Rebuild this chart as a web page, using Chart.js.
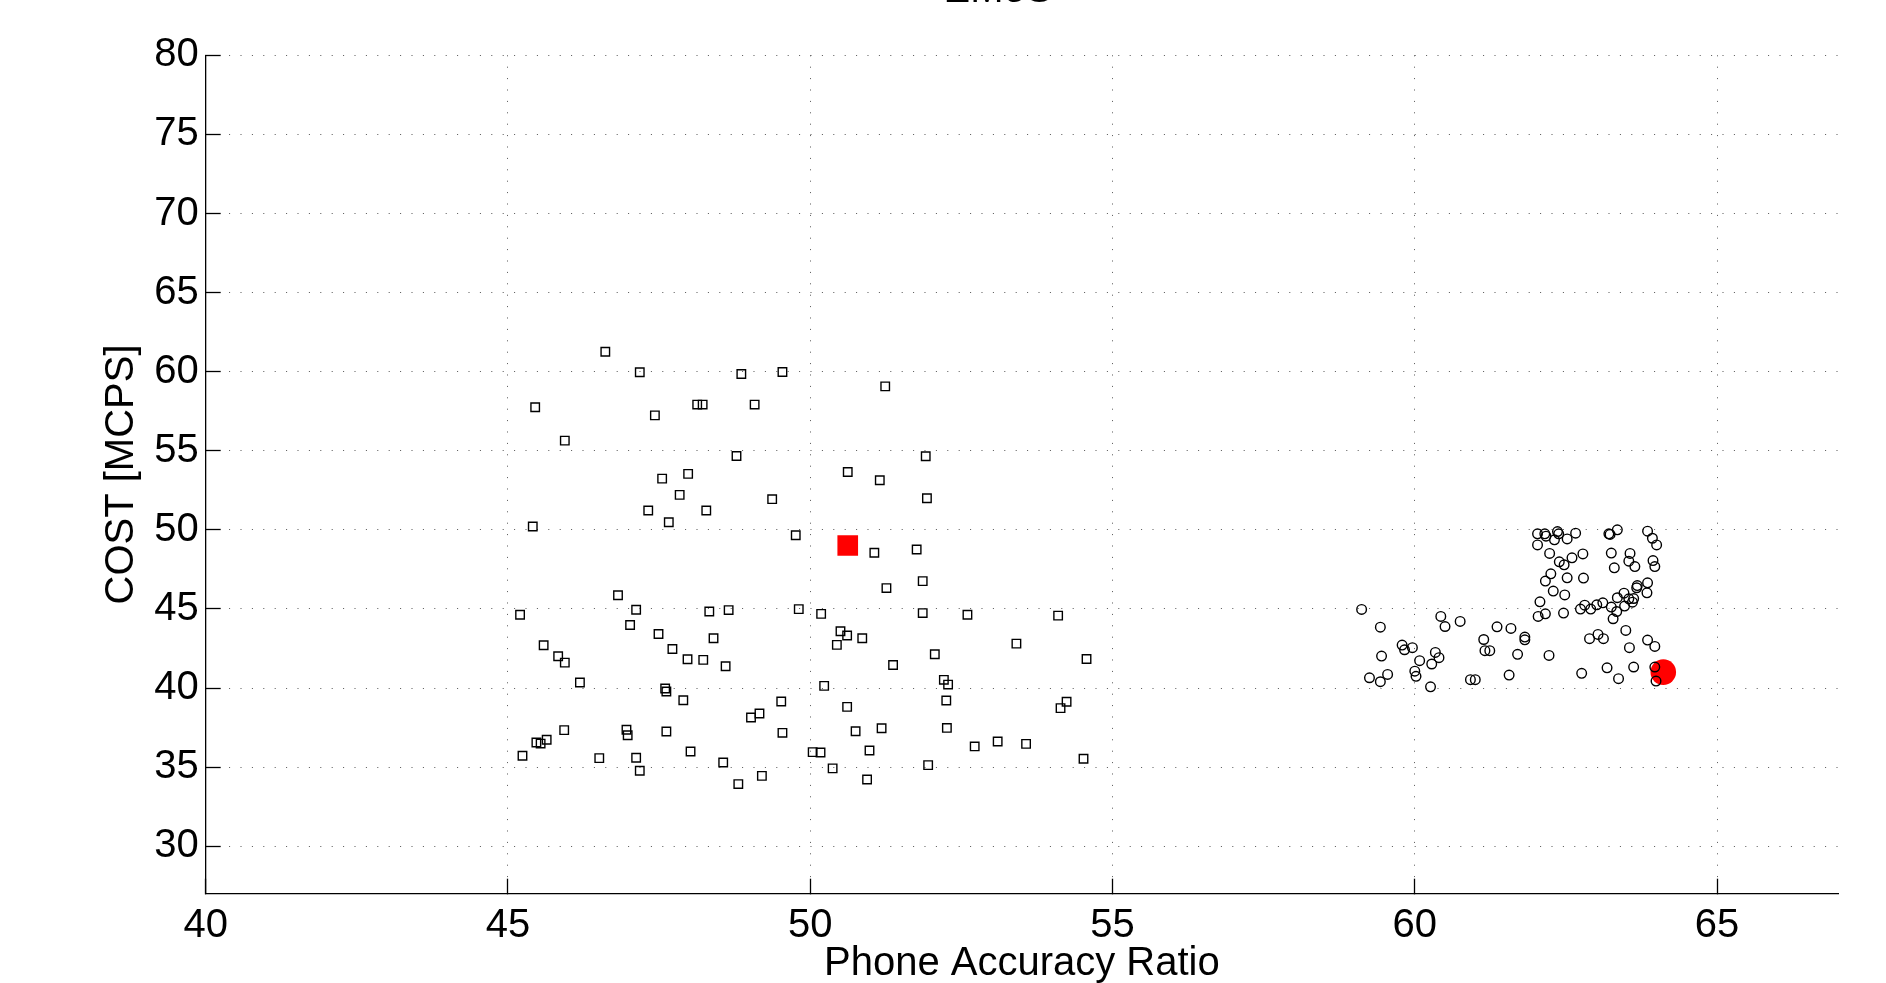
<!DOCTYPE html>
<html>
<head>
<meta charset="utf-8">
<title>EMoS</title>
<script src="https://cdn.jsdelivr.net/npm/chart.js@4/dist/chart.umd.min.js"></script>
<style>
  html, body { margin: 0; padding: 0; background: #fff; }
  #wrap { width: 1886px; height: 983px; position: relative; }
</style>
</head>
<body>
<div id="wrap"><canvas id="chart" width="1886" height="983"></canvas></div>
<script>
// square cluster (left)
const squaresX = [46.61, 47.18, 48.86, 49.54, 45.45, 47.43, 48.13, 48.22, 49.08, 51.24,
  45.94, 48.78, 51.91, 47.55, 47.98, 50.62, 51.15, 47.84, 49.37, 51.93,
  47.32, 48.28, 47.66, 45.41, 49.76, 51.06, 51.76, 51.86, 51.26, 46.82,
  47.12, 48.33, 48.65, 49.81, 50.18, 51.86, 52.60, 45.20, 54.10, 47.02,
  47.49, 48.40, 50.50, 50.61, 50.86, 50.44, 53.41, 45.59, 45.83, 45.94,
  47.72, 47.97, 48.23, 48.60, 52.06, 51.37, 54.57, 46.19, 47.60, 47.62,
  50.23, 52.21, 52.28, 47.90, 49.52, 50.61, 52.25, 54.24, 54.14, 49.16,
  49.02, 45.93, 46.96, 46.98, 47.62, 49.54, 50.75, 51.18, 52.26, 45.64,
  45.47, 45.54, 45.24, 46.51, 47.12, 48.02, 48.56, 50.04, 50.17, 50.98,
  52.72, 53.10, 53.57, 54.52, 51.95, 47.18, 50.37, 49.20, 48.81, 50.94];
const squaresY = [61.26, 59.96, 59.85, 59.98, 57.75, 57.24, 57.92, 57.92, 57.92, 59.07,
  55.64, 54.67, 54.65, 53.24, 53.54, 53.66, 53.14, 52.21, 51.94, 52.00,
  51.22, 51.22, 50.48, 50.21, 49.66, 48.55, 48.76, 46.76, 46.32, 45.87,
  44.95, 44.84, 44.93, 44.99, 44.69, 44.74, 44.63, 44.63, 44.58, 43.99,
  43.42, 43.15, 43.59, 43.32, 43.15, 42.73, 42.81, 42.71, 42.01, 41.61,
  42.47, 41.82, 41.78, 41.38, 42.14, 41.46, 41.84, 40.35, 39.97, 39.78,
  40.14, 40.52, 40.22, 39.23, 39.15, 38.81, 39.21, 39.13, 38.73, 38.39,
  38.14, 37.34, 37.36, 37.02, 37.25, 37.17, 37.27, 37.46, 37.48, 36.73,
  36.56, 36.49, 35.72, 35.57, 35.59, 35.99, 35.29, 35.95, 35.93, 36.05,
  36.31, 36.62, 36.47, 35.53, 35.13, 34.77, 34.92, 34.45, 33.93, 34.22];

// circle cluster (right)
const circlesX = [59.12, 59.43, 60.43, 60.50, 60.75, 61.36, 61.59, 61.14, 59.79, 59.83,
  59.96, 59.45, 60.08, 60.34, 60.40, 60.28, 61.16, 61.24, 61.70, 60.00,
  60.02, 59.25, 59.43, 59.55, 60.26, 60.92, 61.00, 61.56, 61.82, 61.82,
  62.22, 62.76, 63.18, 63.37, 63.62, 63.97, 63.99, 62.89, 63.03, 63.12,
  63.49, 63.55, 63.85, 63.97,
  62.03, 62.03, 62.15, 62.17, 62.31, 62.36, 62.38, 62.52, 62.66, 63.21,
  63.23, 63.35, 63.85, 63.93, 64.00, 62.23, 62.39, 62.47, 62.60, 62.78,
  63.25, 63.56, 63.54, 63.64, 63.30, 63.94, 63.97, 62.25, 62.16, 62.52,
  62.79, 62.29, 62.48, 62.07, 62.04, 62.16, 62.46, 62.74, 62.81, 62.91,
  63.01, 63.11, 63.25, 63.34, 63.28, 63.35, 63.46, 63.47, 63.54, 63.62,
  63.67, 63.68, 63.85, 63.84, 63.60];
const circlesY = [44.97, 43.85, 44.53, 43.89, 44.21, 43.87, 43.77, 43.07, 42.72, 42.42,
  42.55, 42.02, 41.73, 42.25, 41.92, 41.52, 42.36, 42.36, 42.13, 41.07,
  40.74, 40.65, 40.40, 40.86, 40.08, 40.53, 40.53, 40.82, 43.22, 43.05,
  42.06, 40.93, 41.28, 40.59, 41.33, 41.33, 40.44, 43.12, 43.39, 43.12,
  43.64, 42.55, 43.03, 42.63,
  49.75, 49.05, 49.75, 49.60, 49.37, 49.89, 49.75, 49.43, 49.79, 49.75,
  49.71, 50.00, 49.92, 49.47, 49.05, 48.51, 47.98, 47.79, 48.23, 48.48,
  48.53, 48.51, 48.02, 47.68, 47.60, 48.06, 47.68, 47.22, 46.76, 46.97,
  46.95, 46.13, 45.89, 45.45, 44.53, 44.69, 44.74, 44.99, 45.24, 44.99,
  45.26, 45.39, 45.12, 44.84, 44.38, 45.71, 46.00, 45.18, 45.64, 45.66,
  46.34, 46.48, 46.65, 46.02, 45.43];

// highlighted points
const bestSquare = [50.62, 49.01];
const bestCircle = [64.11, 41.01];

const xTicks = [40, 45, 50, 55, 60, 65];
const yTicks = [30, 35, 40, 45, 50, 55, 60, 65, 70, 75, 80];

function toPoints(xs, ys) {
  return xs.map((x, i) => ({x: x, y: ys[i]}));
}

const FONT = '"Liberation Sans", Arial, Helvetica, sans-serif';

// title sits mostly above the canvas, only the bottom edge shows
const cutTitle = {
  id: 'cutTitle',
  afterDraw(chart) {
    const ctx = chart.ctx;
    ctx.save();
    ctx.font = '40px ' + FONT;
    ctx.fillStyle = '#000';
    ctx.textAlign = 'center';
    ctx.textBaseline = 'alphabetic';
    ctx.fillText('EMoS', 998, 1.5);
    ctx.restore();
  }
};

const gridStyle = {
  color: '#555',
  lineWidth: 1,
  tickLength: -15,
  tickColor: '#000',
  tickWidth: 1.3
};
const borderStyle = {color: '#000', width: 1.3, dash: [1, 10.4]};

const config = {
  type: 'scatter',
  data: {
    datasets: [
      {
        data: toPoints(squaresX, squaresY),
        pointStyle: 'rect',
        pointRadius: 6.0,
        borderWidth: 1.4,
        borderColor: '#000',
        backgroundColor: 'rgba(0,0,0,0)'
      },
      {
        data: toPoints(circlesX, circlesY),
        pointStyle: 'circle',
        pointRadius: 4.8,
        borderWidth: 1.4,
        borderColor: '#000',
        backgroundColor: 'rgba(0,0,0,0)'
      },
      {
        data: [{x: bestSquare[0], y: bestSquare[1]}],
        pointStyle: 'rect',
        pointRadius: 14.6,
        borderWidth: 0,
        borderColor: '#ff0000',
        backgroundColor: '#ff0000'
      },
      {
        data: [{x: bestCircle[0], y: bestCircle[1]}],
        pointStyle: 'circle',
        pointRadius: 12.8,
        borderWidth: 0,
        borderColor: '#ff0000',
        backgroundColor: '#ff0000'
      }
    ]
  },
  options: {
    responsive: false,
    animation: false,
    events: [],
    layout: {padding: {top: 55.3, right: 48, left: 0, bottom: 0}},
    plugins: {
      legend: {display: false},
      tooltip: {enabled: false}
    },
    scales: {
      x: {
        type: 'linear',
        min: 40,
        max: 67,
        bounds: 'data',
        afterFit: (scale) => { scale.height = 89.3; },
        afterBuildTicks: (scale) => { scale.ticks = xTicks.map(v => ({value: v})); },
        ticks: {
          stepSize: 5,
          includeBounds: false,
          padding: 23,
          color: '#000',
          maxRotation: 0,
          font: {family: FONT, size: 40}
        },
        grid: gridStyle,
        border: borderStyle,
        title: {
          display: true,
          text: 'Phone Accuracy Ratio',
          color: '#000',
          font: {family: FONT, size: 40},
          padding: {top: 0, bottom: -5}
        }
      },
      y: {
        type: 'linear',
        min: 27,
        max: 80,
        bounds: 'data',
        afterFit: (scale) => { scale.width = 205.7; },
        afterBuildTicks: (scale) => { scale.ticks = yTicks.map(v => ({value: v})); },
        ticks: {
          stepSize: 5,
          includeBounds: false,
          padding: 22,
          color: '#000',
          font: {family: FONT, size: 40}
        },
        grid: gridStyle,
        border: borderStyle,
        title: {
          display: true,
          text: 'COST [MCPS]',
          color: '#000',
          font: {family: FONT, size: 40},
          padding: {top: 98, bottom: 0}
        }
      }
    }
  },
  plugins: [cutTitle]
};

const chart = new Chart(document.getElementById('chart'), config);
</script>
</body>
</html>
